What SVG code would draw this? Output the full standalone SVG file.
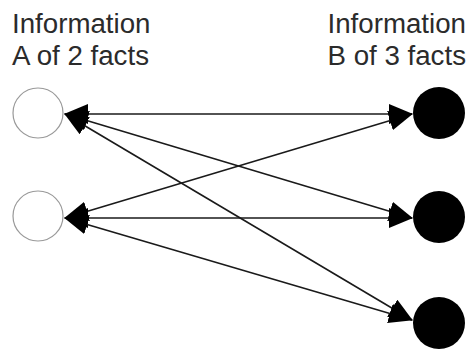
<svg xmlns="http://www.w3.org/2000/svg" width="470" height="356" viewBox="0 0 470 356">
<style>
text{font-family:"Liberation Sans",Arial,sans-serif;font-size:27.7px;fill:#2b2b2b}
.a{fill:#fff;stroke:#999;stroke-width:1.2}
.b{fill:#000}
.c line{stroke:#1a1a1a;stroke-width:1.6;marker-start:url(#h);marker-end:url(#h)}
</style>
<defs>
<marker id="h" viewBox="0 0 24 20" refX="23" refY="10" markerWidth="24" markerHeight="20" markerUnits="userSpaceOnUse" orient="auto-start-reverse">
<path d="M0,0 L24,10 L0,20 z" fill="#000"/>
</marker>
</defs>
<rect width="470" height="356" fill="#fff"/>
<g id="labelA"><text x="12" y="33">Information</text><text x="12" y="65">A of 2 facts</text></g>
<g id="labelB"><text x="466" y="33" text-anchor="end">Information</text><text x="466" y="65" text-anchor="end">B of 3 facts</text></g>
<g class="c" id="connectors">
<line x1="65" y1="114" x2="412" y2="114"/>
<line x1="65" y1="114" x2="412" y2="218"/>
<line x1="65" y1="114" x2="412" y2="320"/>
<line x1="65" y1="218" x2="412" y2="114"/>
<line x1="65" y1="218" x2="412" y2="218"/>
<line x1="65" y1="218" x2="412" y2="320"/>
</g>
<g id="A1"><circle class="a" cx="38" cy="113" r="25"/></g>
<g id="A2"><circle class="a" cx="38" cy="216" r="25"/></g>
<g id="B1"><circle class="b" cx="439" cy="113" r="26"/></g>
<g id="B2"><circle class="b" cx="439" cy="217" r="26"/></g>
<g id="B3"><circle class="b" cx="439" cy="323" r="26"/></g>
</svg>
